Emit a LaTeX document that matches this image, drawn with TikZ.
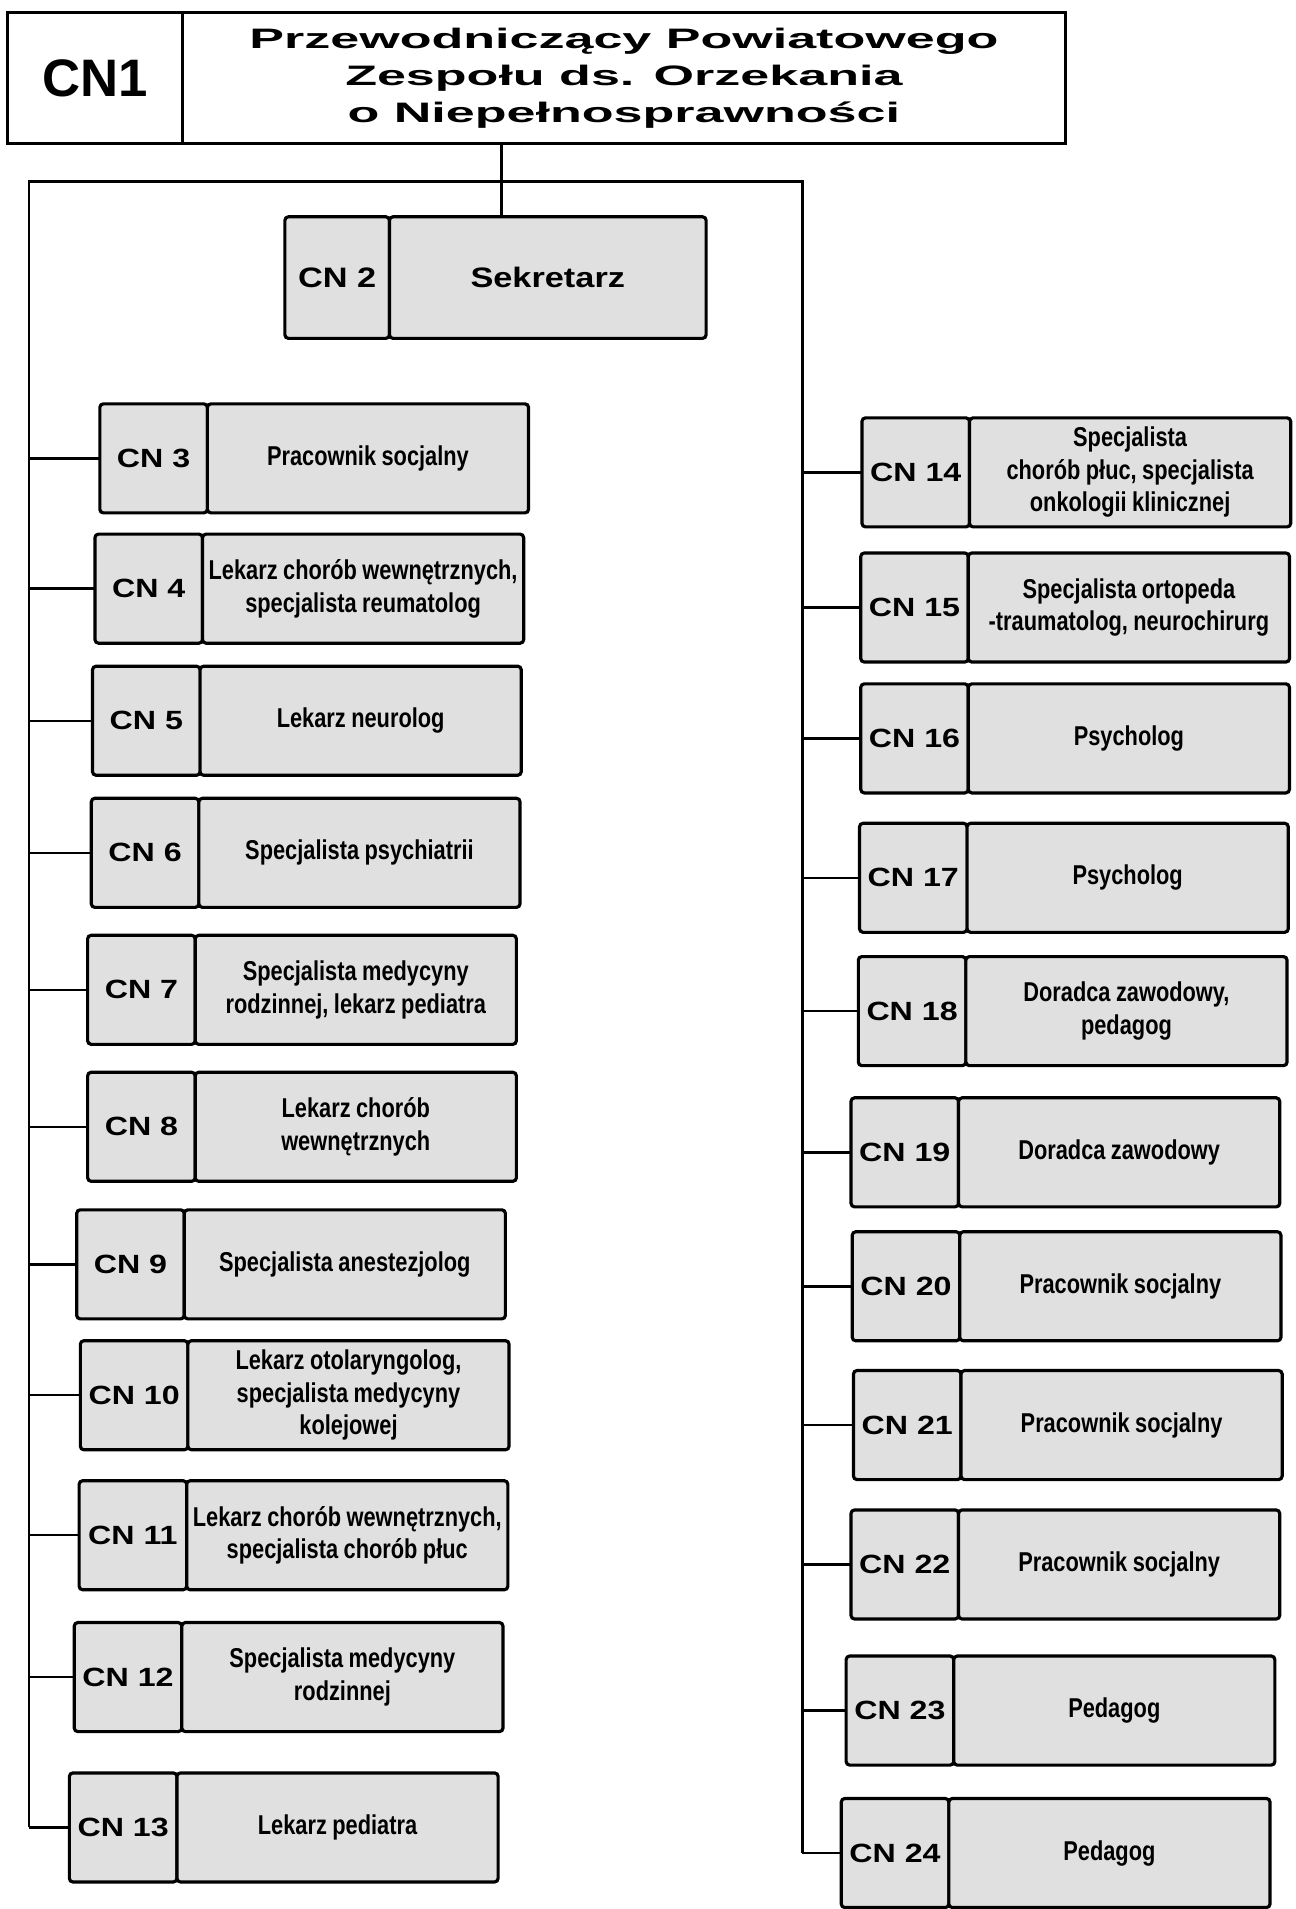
\documentclass[tikz,border=0pt]{standalone}
\usepackage{fontspec}
\setmainfont{Liberation Sans}
\newfontfamily\narrowfont[FakeStretch=0.8]{Liberation Sans}
\newfontfamily\labelfont[FakeStretch=1.22]{Liberation Sans}
\newfontfamily\widefont[FakeStretch=1.85]{Liberation Sans}
\usepackage{tikz}
\usetikzlibrary{positioning}
\tikzstyle{numbox}=[draw,line width=1.8pt,rounded corners=2pt,fill=black!12,minimum width=2.15cm,minimum height=2.18cm,inner sep=0pt,outer sep=0pt,font=\labelfont\bfseries\fontsize{15}{18}\selectfont]

\begin{document}
\begin{tikzpicture}[x=0.02434cm,y=-0.02434cm]

\tikzstyle{txtbox}=[draw,line width=1.8pt,rounded corners=2pt,fill=black!12,minimum width=6.42cm,minimum height=2.18cm,align=center,inner sep=0pt,outer sep=0pt,font={\narrowfont\bfseries\fontsize{15.5}{18.5}\selectfont\spaceskip=0.2em\relax}]
\tikzstyle{headbox}=[draw,line width=1.8pt,fill=white,minimum height=2.63cm,inner sep=0pt,outer sep=0pt]
\tikzstyle{branch}=[line width=1.4pt]

\useasboundingbox (0,0) rectangle (1064,1568);

\node (n1) [headbox, anchor=west, minimum width=3.5cm, font=\bfseries\fontsize{30}{30}\selectfont] at (6,64) {CN1};
\node (t1) [headbox, right=0pt of n1, minimum width=17.65cm, align=center, font=\widefont\bfseries\fontsize{16}{21}\selectfont]
  {Przewodniczący Powiatowego\\Zespołu ds. Orzekania\\o Niepełnosprawności};

\node (n2) [numbox, anchor=west, minimum width=2.09cm, minimum height=2.43cm, font=\labelfont\bfseries\fontsize{16}{19}\selectfont] at (234,228) {CN 2};
\node (t2) [txtbox, right=0pt of n2, minimum width=6.33cm, minimum height=2.43cm, font=\labelfont\bfseries\fontsize{16}{19}\selectfont] {Sekretarz};

% lewa kolumna
\node (n3) [numbox, anchor=west] at (82,376.5) {CN 3};
\node (t3) [txtbox, right=0pt of n3] {Pracownik socjalny};
\node (n4) [numbox, anchor=west] at (78,483.5) {CN 4};
\node (t4) [txtbox, right=0pt of n4] {Lekarz chorób wewnętrznych,\\specjalista reumatolog};
\node (n5) [numbox, anchor=west] at (76,592) {CN 5};
\node (t5) [txtbox, right=0pt of n5] {Lekarz neurolog};
\node (n6) [numbox, anchor=west] at (75,700.5) {CN 6};
\node (t6) [txtbox, right=0pt of n6] {Specjalista psychiatrii};
\node (n7) [numbox, anchor=west] at (72,813) {CN 7};
\node (t7) [txtbox, right=0pt of n7] {Specjalista medycyny\\rodzinnej, lekarz pediatra};
\node (n8) [numbox, anchor=west] at (72,925.5) {CN 8};
\node (t8) [txtbox, right=0pt of n8] {Lekarz chorób\\wewnętrznych};
\node (n9) [numbox, anchor=west] at (63,1038.5) {CN 9};
\node (t9) [txtbox, right=0pt of n9] {Specjalista anestezjolog};
\node (n10) [numbox, anchor=west] at (66,1146) {CN 10};
\node (t10) [txtbox, right=0pt of n10] {Lekarz otolaryngolog,\\specjalista medycyny\\kolejowej};
\node (n11) [numbox, anchor=west] at (65,1261) {CN 11};
\node (t11) [txtbox, right=0pt of n11] {Lekarz chorób wewnętrznych,\\specjalista chorób płuc};
\node (n12) [numbox, anchor=west] at (61,1377.5) {CN 12};
\node (t12) [txtbox, right=0pt of n12] {Specjalista medycyny\\rodzinnej};
\node (n13) [numbox, anchor=west] at (57,1501) {CN 13};
\node (t13) [txtbox, right=0pt of n13] {Lekarz pediatra};

% prawa kolumna
\node (n14) [numbox, anchor=west] at (708,388) {CN 14};
\node (t14) [txtbox, right=0pt of n14] {Specjalista\\chorób płuc, specjalista\\onkologii klinicznej};
\node (n15) [numbox, anchor=west] at (707,499) {CN 15};
\node (t15) [txtbox, right=0pt of n15] {Specjalista ortopeda\\-traumatolog, neurochirurg};
\node (n16) [numbox, anchor=west] at (707,606.5) {CN 16};
\node (t16) [txtbox, right=0pt of n16] {Psycholog};
\node (n17) [numbox, anchor=west] at (706,721) {CN 17};
\node (t17) [txtbox, right=0pt of n17] {Psycholog};
\node (n18) [numbox, anchor=west] at (705,830.5) {CN 18};
\node (t18) [txtbox, right=0pt of n18] {Doradca zawodowy,\\pedagog};
\node (n19) [numbox, anchor=west] at (699,946.5) {CN 19};
\node (t19) [txtbox, right=0pt of n19] {Doradca zawodowy};
\node (n20) [numbox, anchor=west] at (700,1056.5) {CN 20};
\node (t20) [txtbox, right=0pt of n20] {Pracownik socjalny};
\node (n21) [numbox, anchor=west] at (701,1170.5) {CN 21};
\node (t21) [txtbox, right=0pt of n21] {Pracownik socjalny};
\node (n22) [numbox, anchor=west] at (699,1285) {CN 22};
\node (t22) [txtbox, right=0pt of n22] {Pracownik socjalny};
\node (n23) [numbox, anchor=west] at (695,1405) {CN 23};
\node (t23) [txtbox, right=0pt of n23] {Pedagog};
\node (n24) [numbox, anchor=west] at (691,1522) {CN 24};
\node (t24) [txtbox, right=0pt of n24] {Pedagog};

\coordinate (hub) at (412,149);
\coordinate (lt) at (24,149);
\coordinate (rt) at (659,149);

\draw[branch] (hub |- t1.south) -- (hub |- n2.north);
\draw[branch] (lt |- n13.west) -- (lt) -- (rt) -- (rt |- n24.west);

\draw[branch] (n3.west) -- (n3.west -| lt);
\draw[branch] (n4.west) -- (n4.west -| lt);
\draw[branch] (n5.west) -- (n5.west -| lt);
\draw[branch] (n6.west) -- (n6.west -| lt);
\draw[branch] (n7.west) -- (n7.west -| lt);
\draw[branch] (n8.west) -- (n8.west -| lt);
\draw[branch] (n9.west) -- (n9.west -| lt);
\draw[branch] (n10.west) -- (n10.west -| lt);
\draw[branch] (n11.west) -- (n11.west -| lt);
\draw[branch] (n12.west) -- (n12.west -| lt);
\draw[branch] (n13.west) -- (n13.west -| lt);

\draw[branch] (n14.west) -- (n14.west -| rt);
\draw[branch] (n15.west) -- (n15.west -| rt);
\draw[branch] (n16.west) -- (n16.west -| rt);
\draw[branch] (n17.west) -- (n17.west -| rt);
\draw[branch] (n18.west) -- (n18.west -| rt);
\draw[branch] (n19.west) -- (n19.west -| rt);
\draw[branch] (n20.west) -- (n20.west -| rt);
\draw[branch] (n21.west) -- (n21.west -| rt);
\draw[branch] (n22.west) -- (n22.west -| rt);
\draw[branch] (n23.west) -- (n23.west -| rt);
\draw[branch] (n24.west) -- (n24.west -| rt);
\end{tikzpicture}
\end{document}
